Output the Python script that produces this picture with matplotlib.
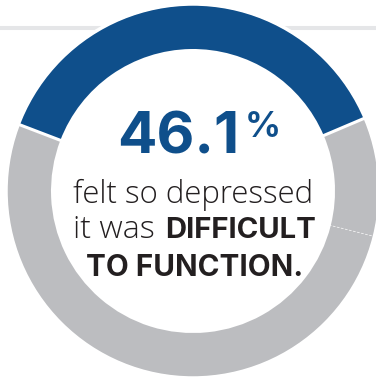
import numpy as np
from matplotlib import pyplot as plt

# ring shares as drawn (percent of the circle), starting at the right end of the blue arc
ring_labels = ["difficult to function", "rest", "rest (tail)"]
ring_shares = [37.8, 51.9, 10.3]
ring_colors = ["#0f4f8b", "#bcbdc0", "#bcbdc0"]
start_angle = 23

headline_value = 46.1
line_1 = "felt so depressed"
line_2_plain = "it was"
line_2_bold = "DIFFICULT"
line_3_bold = "TO FUNCTION."

BLUE = "#0f4f8b"
TEXT = "#231f20"

W, H = 376, 379
fig = plt.figure(figsize=(W / 100, H / 100), dpi=100)
ax = fig.add_axes([0, 0, 1, 1])

cx, cy = 193, H - 191
r_out, r_in = 186, 142

# thin grey rule behind the ring
ax.axhline(H - 28, color="#e5e6e8", lw=2.9, zorder=0)

wedges, _ = ax.pie(
    ring_shares, colors=ring_colors, startangle=start_angle, counterclock=True,
    center=(cx, cy), radius=r_out, wedgeprops=dict(width=r_out - r_in, linewidth=0),
    frame=True,
)
for w in wedges:
    w.set_zorder(2)
ax.set_xlim(0, W)
ax.set_ylim(0, H)
ax.set_aspect("equal")
ax.axis("off")

# white outline around the ring
ax.add_patch(plt.Circle((cx, cy), r_out + 1, fill=False, ec="white", lw=2.5, zorder=3))

# separators between segments
bounds = start_angle + np.cumsum([0] + ring_shares[:-1]) * 3.6
for i, a in enumerate(bounds):
    t = np.deg2rad(a)
    xs = [cx + (r_in - 2) * np.cos(t), cx + (r_out + 2) * np.cos(t)]
    ys = [cy + (r_in - 2) * np.sin(t), cy + (r_out + 2) * np.sin(t)]
    if i < 2:
        ax.plot(xs, ys, color="white", lw=2.2, zorder=4, solid_capstyle="butt")
    else:
        ax.plot(xs, ys, color="white", lw=0.6, ls=(0, (3, 2)), alpha=0.7, zorder=4)

fig.canvas.draw()
r = fig.canvas.get_renderer()


def fit(t, target_w):
    # scale font so the text spans target_w pixels
    w = t.get_window_extent(r).width
    t.set_fontsize(t.get_fontsize() * target_w / w)
    return t


light = dict(color=TEXT, family="Open Sans", fontweight="light", va="baseline", zorder=5)
bold = dict(color=TEXT, family="Inter", fontweight="bold", va="baseline", zorder=5)

# headline
num = ax.text(117, H - 153, f"{headline_value:.1f}", color=BLUE, fontsize=44,
              family="Inter", fontweight="bold", ha="left", va="baseline", zorder=5)
fit(num, 122)
pct = ax.text(245, H - 111, "%", color=BLUE, fontsize=25,
              family="Inter", fontweight="bold", ha="left", va="top", zorder=5)
fit(pct, 36)

t1 = ax.text(73, H - 203, line_1, fontsize=22.5, ha="left", **light)
fit(t1, 240)

a = ax.text(73, H - 238, line_2_plain, fontsize=22.5, ha="left", **light)
fit(a, 82)
b = ax.text(165, H - 238, line_2_bold, fontsize=20, ha="left", **bold)
fit(b, 152)

c = ax.text(86, H - 276, line_3_bold, fontsize=20, ha="left", **bold)
fit(c, 217)

fig.savefig("out.png", dpi=100)
